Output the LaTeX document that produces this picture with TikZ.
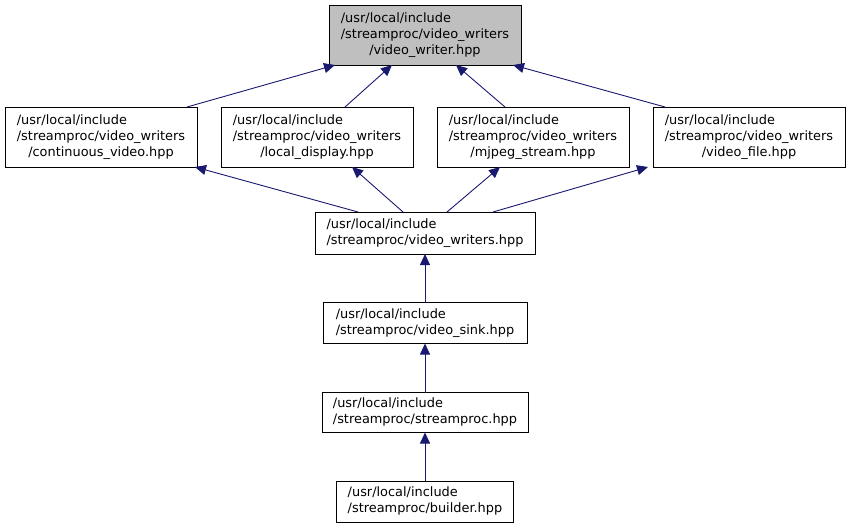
\documentclass[tikz,border=0pt]{standalone}
\usepackage{fontspec}
\setmainfont{DejaVu Sans}
\usetikzlibrary{arrows.meta}
\definecolor{edgeblue}{HTML}{191970}
\definecolor{topgray}{HTML}{BFBFBF}
\newcommand{\lblthree}[3]{\begin{tabular}{@{}l@{}}#1\\#2\\\multicolumn{1}{@{}c@{}}{#3}\end{tabular}}
\newcommand{\lbltwo}[2]{\begin{tabular}{@{}l@{}}#1\\\multicolumn{1}{@{}c@{}}{#2}\end{tabular}}
\begin{document}
\begin{tikzpicture}[x=1pt,y=-1pt,
  filebox/.style={draw=black, line width=0.9pt, fill=white, inner sep=0pt, outer sep=0pt,
    font=\fontsize{12.9}{16}\selectfont, anchor=center},
  edge/.style={draw=edgeblue, line width=0.9pt, -{Triangle[length=11pt,width=10pt]}}]
\useasboundingbox (0,0) rectangle (851,528);
\node[filebox, fill=topgray, minimum width=192pt, minimum height=60pt] (top) at (425,35)
  {\lblthree{/usr/local/include}{/streamproc/video\_writers}{/video\_writer.hpp}};
\node[filebox, minimum width=192pt, minimum height=60pt] (cont) at (101,137)
  {\lblthree{/usr/local/include}{/streamproc/video\_writers}{/continuous\_video.hpp}};
\node[filebox, minimum width=192pt, minimum height=60pt] (local) at (317,137)
  {\lblthree{/usr/local/include}{/streamproc/video\_writers}{/local\_display.hpp}};
\node[filebox, minimum width=192pt, minimum height=60pt] (mjpeg) at (533,137)
  {\lblthree{/usr/local/include}{/streamproc/video\_writers}{/mjpeg\_stream.hpp}};
\node[filebox, minimum width=192pt, minimum height=60pt] (vfile) at (749,137)
  {\lblthree{/usr/local/include}{/streamproc/video\_writers}{/video\_file.hpp}};
\node[filebox, minimum width=220pt, minimum height=42pt] (vw) at (425,233)
  {\lbltwo{/usr/local/include}{/streamproc/video\_writers.hpp}};
\node[filebox, minimum width=204pt, minimum height=41pt] (sink) at (425,323)
  {\lbltwo{/usr/local/include}{/streamproc/video\_sink.hpp}};
\node[filebox, minimum width=206pt, minimum height=40pt] (sp) at (425,412.5)
  {\lbltwo{/usr/local/include}{/streamproc/streamproc.hpp}};
\node[filebox, minimum width=177pt, minimum height=41pt] (build) at (425,501.5)
  {\lbltwo{/usr/local/include}{/streamproc/builder.hpp}};
% level 1 edges
\draw[edge] ([xshift=86pt]cont.north) -- ([xshift=-90pt]top.south);
\draw[edge] ([xshift=28pt]local.north) -- ([xshift=-33pt]top.south);
\draw[edge] ([xshift=-28pt]mjpeg.north) -- ([xshift=31pt]top.south);
\draw[edge] ([xshift=-84pt]vfile.north) -- ([xshift=88pt]top.south);
% level 2 edges
\draw[edge] ([xshift=-67pt]vw.north) -- ([xshift=94pt]cont.south);
\draw[edge] ([xshift=-22pt]vw.north) -- ([xshift=35pt]local.south);
\draw[edge] ([xshift=22pt]vw.north) -- ([xshift=-33pt]mjpeg.south);
\draw[edge] ([xshift=68pt]vw.north) -- ([xshift=-101pt]vfile.south);
% vertical chain
\draw[edge] (sink.north) -- (vw.south);
\draw[edge] (sp.north) -- (sink.south);
\draw[edge] (build.north) -- (sp.south);
\end{tikzpicture}
\end{document}
